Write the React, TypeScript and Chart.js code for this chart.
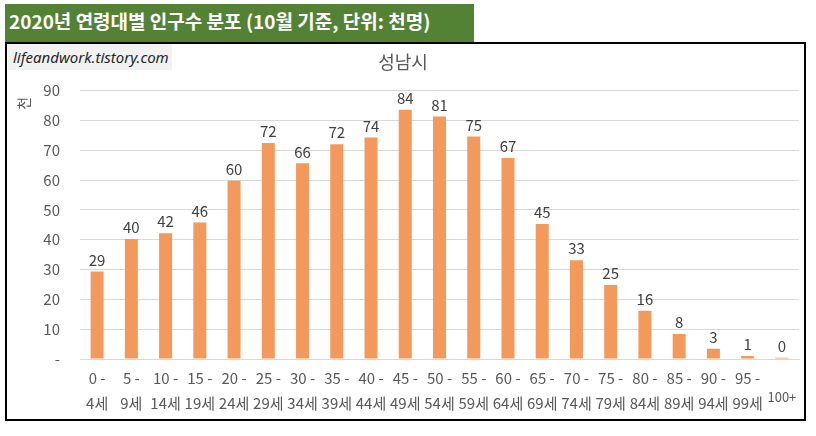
import { useEffect, useRef } from 'react';
import Chart from 'chart.js/auto';

const ageLabels: string[][] = [
  ['0 -', '4세'], ['5 -', '9세'], ['10 -', '14세'], ['15 -', '19세'], ['20 -', '24세'],
  ['25 -', '29세'], ['30 -', '34세'], ['35 -', '39세'], ['40 -', '44세'], ['45 -', '49세'],
  ['50 -', '54세'], ['55 -', '59세'], ['60 -', '64세'], ['65 -', '69세'], ['70 -', '74세'],
  ['75 -', '79세'], ['80 -', '84세'], ['85 -', '89세'], ['90 -', '94세'], ['95 -', '99세'],
  ['', '100+'],
];
// 천 명 단위
const population: number[] = [
  29.3, 40.2, 42.2, 45.8, 59.8, 72.4, 65.6, 72.0, 74.3, 83.6, 81.3,
  74.6, 67.4, 45.3, 33.1, 24.8, 16.2, 8.4, 3.4, 1.0, 0.4,
];
const yTicks: number[] = [0, 10, 20, 30, 40, 50, 60, 70, 80, 90];

const FONT = "'Noto Sans CJK KR', 'Noto Sans', sans-serif";

const valueLabels = {
  id: 'valueLabels',
  afterDatasetsDraw(chart: Chart) {
    const { ctx } = chart;
    const meta = chart.getDatasetMeta(0);
    ctx.save();
    ctx.font = `15px ${FONT}`;
    ctx.fillStyle = '#404040';
    ctx.textAlign = 'center';
    ctx.textBaseline = 'bottom';
    meta.data.forEach((bar: any, i: number) => {
      ctx.fillText(String(Math.round(population[i])), bar.x, bar.y - 4);
    });
    ctx.restore();
  },
};

function PopulationChart() {
  const canvasRef = useRef<HTMLCanvasElement>(null);

  useEffect(() => {
    if (!canvasRef.current) return;
    const chart = new Chart(canvasRef.current, {
      type: 'bar',
      data: {
        labels: ageLabels,
        datasets: [{
          data: population,
          backgroundColor: '#F3995B',
          barPercentage: 0.38,
          categoryPercentage: 1,
        }],
      },
      options: {
        responsive: false,
        animation: false,
        devicePixelRatio: 1,
        layout: { padding: { left: 0, right: 5, top: 0, bottom: 0 } },
        plugins: {
          legend: { display: false },
          tooltip: { enabled: false },
          title: {
            display: true,
            text: '성남시',
            color: '#595959',
            font: { family: FONT, size: 18, weight: 'normal' },
            padding: { top: 7, bottom: 18 },
          },
        },
        scales: {
          x: {
            afterFit: (s: any) => { s.height = 60; },
            grid: { display: false, drawTicks: false },
            border: { display: true, color: '#d9d9d9' },
            ticks: {
              color: '#595959',
              padding: 7,
              maxRotation: 0,
              autoSkip: false,
              font: (c: any) => c.index === 20
                ? { family: FONT, size: 13, lineHeight: '21px' }
                : { family: FONT, size: 15, lineHeight: '25px' },
            },
          },
          y: {
            min: 0,
            max: 90,
            afterFit: (s: any) => { s.width = 73; },
            afterBuildTicks: (s: any) => { s.ticks = yTicks.map((v) => ({ value: v })); },
            grid: { color: '#d9d9d9', drawTicks: false },
            border: { display: false },
            ticks: {
              color: '#595959',
              padding: 20,
              font: { family: FONT, size: 15 },
              callback: (v: any) => (Number(v) === 0 ? '-' : String(v)),
            },
            title: {
              display: true,
              text: '천  ',
              align: 'end',
              color: '#595959',
              font: { family: FONT, size: 14 },
              padding: { top: 8, bottom: 0 },
            },
          },
        },
      },
      plugins: [valueLabels],
    });
    return () => chart.destroy();
  }, []);

  return (
    <canvas
      ref={canvasRef}
      width={797}
      height={375}
      style={{ position: 'absolute', left: 7, top: 44, width: 797, height: 375 }}
    />
  );
}

export default function App() {
  return (
    <div style={{ position: 'absolute', left: 0, top: 0, width: 816, height: 436, background: '#fff', fontFamily: FONT }}>
      <div
        style={{
          position: 'absolute', left: 5, top: 4, width: 469, height: 38,
          background: '#548235', color: '#fff', fontWeight: 'bold', fontSize: 19,
          lineHeight: '34px', paddingLeft: 4, boxSizing: 'border-box', whiteSpace: 'nowrap',
        }}
      >
        2020년 연령대별 인구수 분포 (10월 기준, 단위: 천명)
      </div>
      <div
        style={{
          position: 'absolute', left: 5, top: 42, width: 801, height: 379,
          border: '2px solid #000', boxSizing: 'border-box', background: '#fff',
        }}
      />
      <PopulationChart />
      <div
        style={{
          position: 'absolute', left: 8, top: 44, width: 164, height: 26,
          background: '#f2f2f2', color: '#262626', fontStyle: 'italic', fontSize: 15,
          lineHeight: '26px', paddingLeft: 5, boxSizing: 'border-box', whiteSpace: 'nowrap',
          fontFamily: "'Noto Sans', sans-serif",
        }}
      >
        lifeandwork.tistory.com
      </div>
    </div>
  );
}
